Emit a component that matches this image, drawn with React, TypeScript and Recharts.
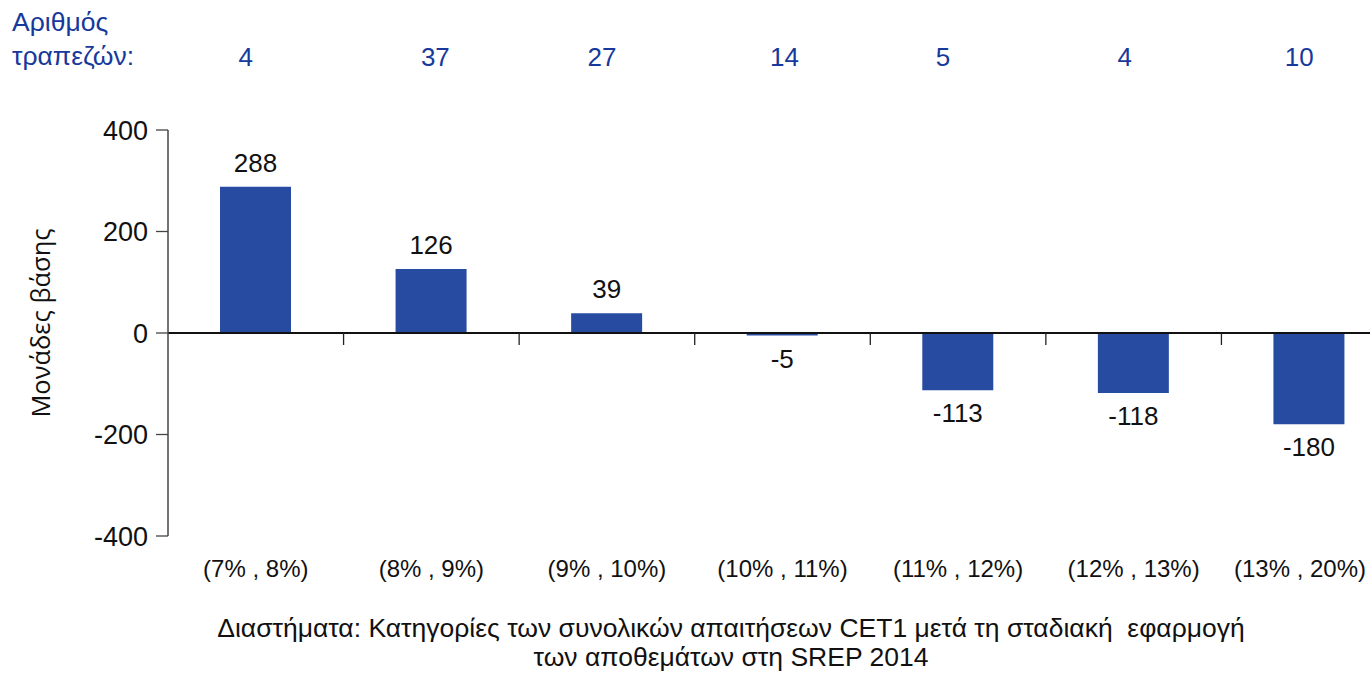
import { BarChart, Bar, XAxis, YAxis, ReferenceLine, LabelList } from "recharts";

const categories = [
  "(7% , 8%)",
  "(8% , 9%)",
  "(9% , 10%)",
  "(10% , 11%)",
  "(11% , 12%)",
  "(12% , 13%)",
  "(13% , 20%)",
];
const basisPoints = [288, 126, 39, -5, -113, -118, -180];
const bankCounts = [4, 37, 27, 14, 5, 4, 10];
const yTicks = [-400, -200, 0, 200, 400];

// the bank counts in the header are not exactly centred on the bars
const countNudge = [-10, 4, -5, 2, -15, -9, -10];

const data = categories.map((cat, i) => ({
  cat,
  value: basisPoints[i],
  banks: bankCounts[i],
}));

const W = 1370;
const BAR = "#264ba0";
const BLUE = "#17399b";
const FONT = "'Liberation Sans', Arial, sans-serif";

// zero line with tick marks at the category borders
const ZeroLine = (props: any) => {
  const { x1, y1, x2, y2 } = props;
  const step = (x2 - x1) / categories.length;
  const marks = [];
  for (let i = 1; i < categories.length; i++) {
    const x = x1 + step * i;
    marks.push(<line key={i} x1={x} x2={x} y1={y1} y2={y1 + 12} stroke="#222" strokeWidth={1.3} />);
  }
  return (
    <g>
      <line x1={x1} y1={y1} x2={x2} y2={y2} stroke="#111" strokeWidth={2} />
      {marks}
    </g>
  );
};

const ValueLabel = (props: any) => {
  const { x, y, width, height, value } = props;
  const top = Math.min(y, y + height);
  const bottom = Math.max(y, y + height);
  const ty = value >= 0 ? top - 15 : bottom + 32;
  return (
    <text x={x + width / 2} y={ty} textAnchor="middle" fontSize={26} fill="#111" fontFamily={FONT}>
      {value}
    </text>
  );
};

const CountTick = (props: any) => {
  const { x, y, index } = props;
  return (
    <text x={x + countNudge[index]} y={y} textAnchor="middle" fontSize={26} fill={BLUE} fontFamily={FONT}>
      {bankCounts[index]}
    </text>
  );
};

// category labels; the last one is pulled inside the visible edge
const CatTick = (props: any) => {
  const { x, y, payload, index } = props;
  const last = index === categories.length - 1;
  return (
    <text
      x={last ? W - 4 : x}
      y={y}
      dy="0.71em"
      textAnchor={last ? "end" : "middle"}
      fontSize={24}
      fill="#111"
      fontFamily={FONT}
    >
      {payload.value}
    </text>
  );
};

export default function App() {
  return (
    <div
      style={{
        position: "absolute",
        left: 0,
        top: 0,
        width: W,
        height: 673,
        overflow: "hidden",
        background: "#fff",
        fontFamily: FONT,
      }}
    >
      <div style={{ position: "absolute", left: 12, top: 5, fontSize: 26.5, lineHeight: "34px", color: BLUE }}>
        Αριθμός
        <br />
        τραπεζών:
      </div>
      <div
        style={{
          position: "absolute",
          left: 40,
          top: 323,
          transform: "translate(-50%, -50%) rotate(-90deg)",
          whiteSpace: "nowrap",
          fontSize: 25.5,
          color: "#111",
          fontFamily: "'Open Sans', sans-serif",
        }}
      >
        Μονάδες βάσης
      </div>
      <div
        style={{
          position: "absolute",
          left: 0,
          width: 1462,
          top: 614,
          textAlign: "center",
          fontSize: 26.5,
          lineHeight: "29px",
          color: "#111",
        }}
      >
        Διαστήματα: Κατηγορίες των συνολικών απαιτήσεων CET1 μετά τη σταδιακή&nbsp; εφαρμογή
        <br />
        των αποθεμάτων στη SREP 2014
      </div>
      <div style={{ position: "absolute", left: 0, top: 0 }}>
        <BarChart
          width={1400}
          height={673}
          data={data}
          margin={{ top: 50, right: 3, bottom: 97, left: 0 }}
          barSize={71}
        >
          <XAxis
            xAxisId="top"
            orientation="top"
            dataKey="cat"
            height={80}
            axisLine={false}
            tickLine={false}
            tickMargin={58}
            tick={<CountTick />}
          />
          <XAxis
            dataKey="cat"
            height={40}
            axisLine={false}
            tickLine={false}
            tickMargin={18}
            tick={<CatTick />}
          />
          <YAxis
            domain={[-400, 400]}
            ticks={yTicks}
            width={168}
            tickSize={12}
            tickMargin={8}
            axisLine={{ stroke: "#444", strokeWidth: 1.5 }}
            tickLine={{ stroke: "#444", strokeWidth: 1.3 }}
            tick={{ fill: "#111", fontSize: 27, fontFamily: FONT }}
          />
          <Bar dataKey="value" fill={BAR} isAnimationActive={false}>
            <LabelList dataKey="value" content={<ValueLabel />} />
          </Bar>
          <ReferenceLine y={0} shape={<ZeroLine />} />
        </BarChart>
      </div>
    </div>
  );
}
